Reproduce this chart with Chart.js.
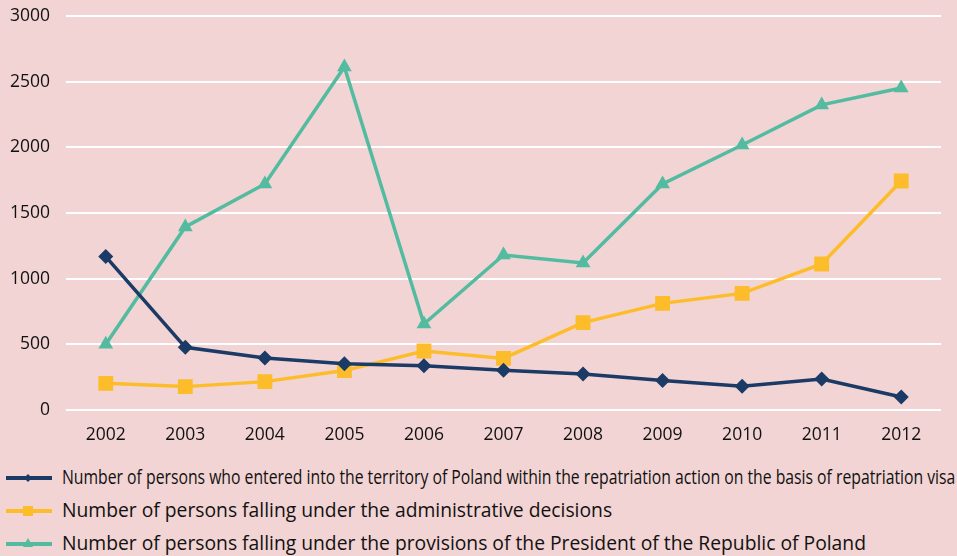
<!DOCTYPE html>
<html>
<head>
<meta charset="utf-8">
<script src="https://cdn.jsdelivr.net/npm/chart.js@4/dist/chart.umd.min.js"></script>
<style>
  html, body { margin: 0; padding: 0; background: #f1d4d3; }
  body { width: 957px; height: 556px; overflow: hidden; font-family: "Open Sans", Lato, sans-serif; }
  #wrap { position: relative; width: 957px; height: 455px; }
  #legend { position: absolute; left: 0; top: 462px; width: 957px; }
  .item { position: absolute; left: 0; height: 30px; width: 957px; }
  .item svg { position: absolute; left: 4px; top: 8px; }
  .item span { position: absolute; left: 62px; top: 1px; font-size: 19.3px; color: #111; white-space: nowrap; transform-origin: 0 50%; }
</style>
</head>
<body>
<div id="wrap"><canvas id="chart"></canvas></div>
<div id="legend"></div>
<script>
// ─── Data ─────────────────────────────────────────────
const years = ["2002", "2003", "2004", "2005", "2006", "2007", "2008", "2009", "2010", "2011", "2012"];
const visaEntries = [1168, 477, 396, 352, 337, 302, 274, 224, 180, 236, 99];
const adminDecisions = [203, 178, 216, 300, 449, 393, 665, 812, 888, 1112, 1744];
const presidentProvisions = [500, 1394, 1721, 2612, 655, 1180, 1120, 1721, 2018, 2323, 2452];
const yTicks = [0, 500, 1000, 1500, 2000, 2500, 3000];

const seriesLabels = [
  "Number of persons who entered into the territory of Poland within the repatriation action on the basis of repatriation visa",
  "Number of persons falling under the administrative decisions",
  "Number of persons falling under the provisions of the President of the Republic of Poland",
];
const colors = ["#1b3a66", "#fdbd2b", "#52bba0"];

Chart.defaults.font.family = "'Open Sans', Lato, sans-serif";
Chart.defaults.color = "#111";

const ctx = document.getElementById("chart").getContext("2d");
new Chart(ctx, {
  type: "line",
  data: {
    labels: years,
    datasets: [
      {
        label: seriesLabels[0], data: visaEntries,
        borderColor: colors[0], backgroundColor: colors[0],
        borderWidth: 3.5, pointStyle: "rectRot", pointRadius: 7.5, pointBorderWidth: 0,
      },
      {
        label: seriesLabels[1], data: adminDecisions,
        borderColor: colors[1], backgroundColor: colors[1],
        borderWidth: 3.5, pointStyle: "rect", pointRadius: 10.5, pointBorderWidth: 0,
      },
      {
        label: seriesLabels[2], data: presidentProvisions,
        borderColor: colors[2], backgroundColor: colors[2],
        borderWidth: 3.5, pointStyle: "triangle", pointRadius: 8.5, pointBorderWidth: 0,
      },
    ],
  },
  options: {
    responsive: true,
    maintainAspectRatio: false,
    animation: false,
    layout: { padding: { top: 16, right: 16, left: 0, bottom: 0 } },
    plugins: { legend: { display: false }, tooltip: { enabled: false } },
    scales: {
      x: {
        offset: true,
        grid: { display: false },
        border: { display: false },
        ticks: { font: { size: 17.5 }, padding: 7, maxRotation: 0 },
        afterFit: (s) => { s.height = 45; s.paddingLeft = 0; s.paddingRight = 0; },
      },
      y: {
        min: 0, max: 3000,
        afterBuildTicks: (s) => { s.ticks = yTicks.map((v) => ({ value: v })); },
        grid: { color: "#ffffff", lineWidth: 2, drawTicks: false },
        border: { display: false },
        ticks: { font: { size: 17.5 }, padding: 16, callback: (v) => String(v) },
        afterFit: (s) => { s.width = 66; s.paddingTop = 0; s.paddingBottom = 0; },
      },
    },
  },
});

// ─── HTML legend ──────────────────────────────────────
const shapes = [
  (c) => `<polygon points="24,4 28,8 24,12 20,8" fill="${c}"/>`,
  (c) => `<rect x="19" y="3" width="10" height="10" fill="${c}"/>`,
  (c) => `<polygon points="24,2 29,11 19,11" fill="${c}"/>`,
];
const legend = document.getElementById("legend");
seriesLabels.forEach((text, i) => {
  const item = document.createElement("div");
  item.className = "item";
  item.style.top = i * 33 + "px";
  item.innerHTML =
    `<svg width="50" height="16"><line x1="2" y1="8" x2="48" y2="8" stroke="${colors[i]}" stroke-width="4"/>${shapes[i](colors[i])}</svg>`;
  const span = document.createElement("span");
  span.textContent = text;
  item.appendChild(span);
  legend.appendChild(item);
  const maxW = 893;
  if (span.offsetWidth > maxW) span.style.transform = `scaleX(${maxW / span.offsetWidth})`;
});
</script>
</body>
</html>
